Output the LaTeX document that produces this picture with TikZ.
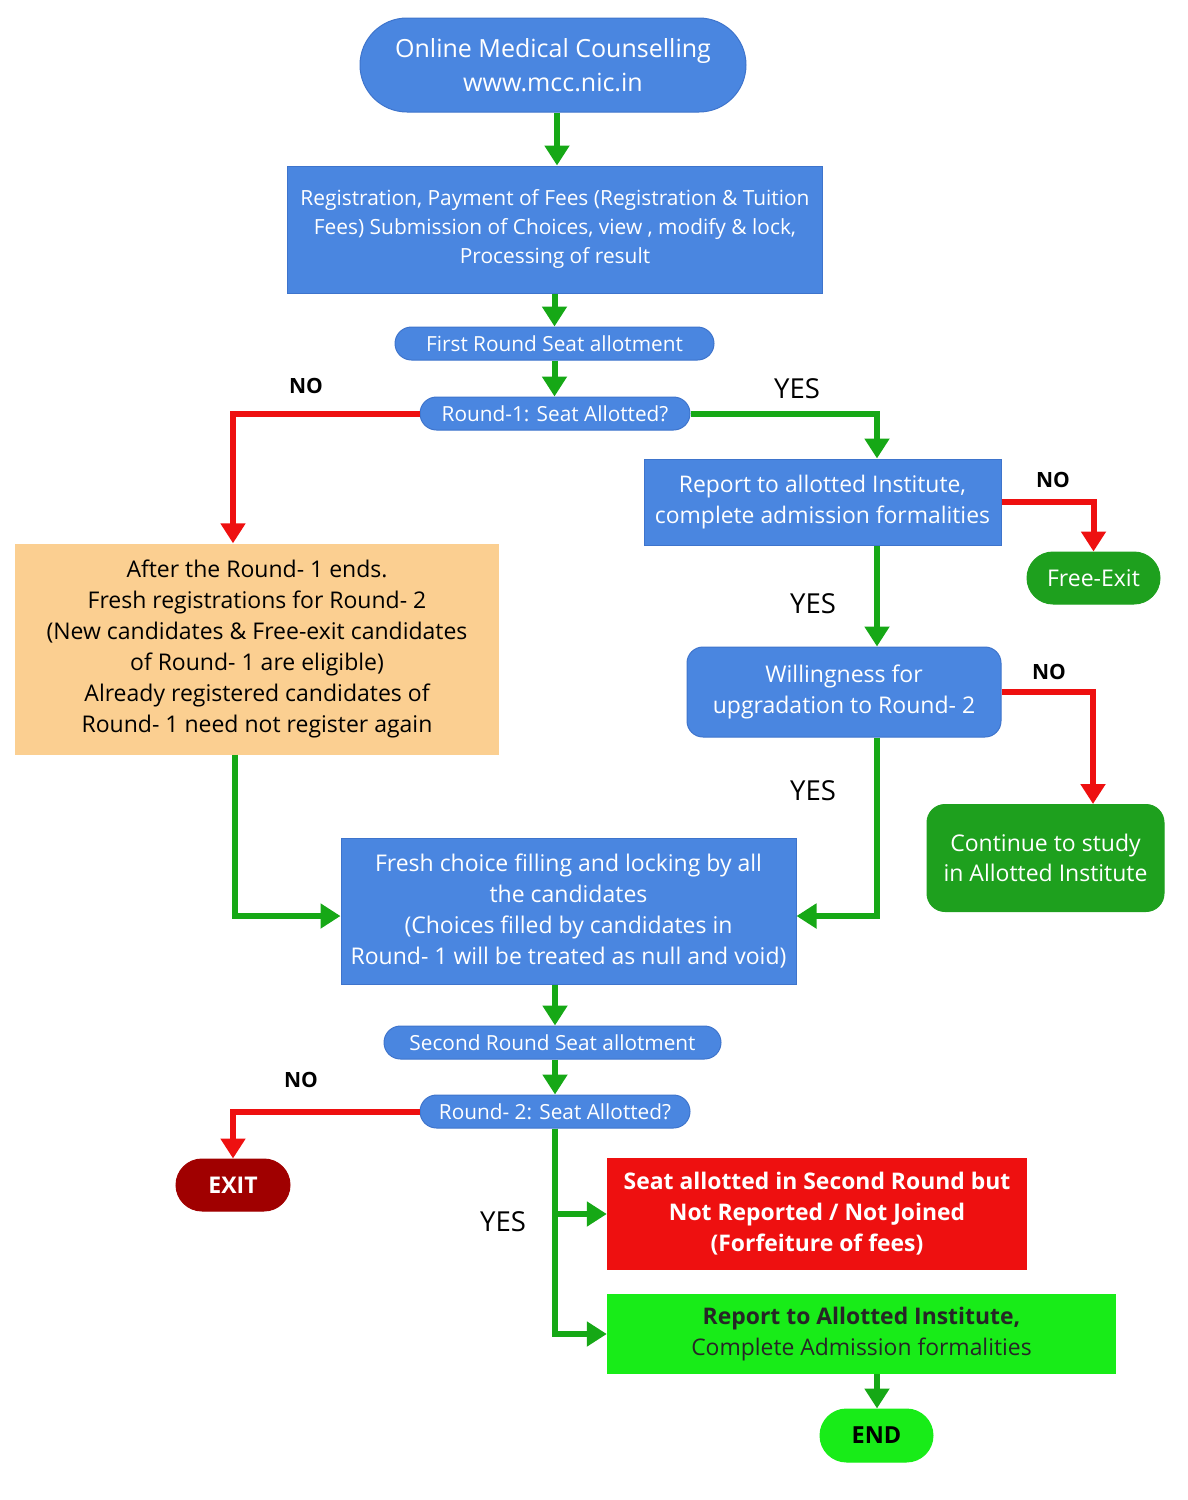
\documentclass[tikz,border=0pt]{standalone}
\usepackage{fontspec}
\setmainfont{Open Sans}
\usetikzlibrary{arrows.meta,positioning}
\definecolor{boxblue}{RGB}{74,134,224}
\definecolor{lineblue}{RGB}{62,116,204}
\definecolor{flowgreen}{RGB}{22,168,22}
\definecolor{flowred}{RGB}{238,16,16}
\definecolor{softorange}{RGB}{251,207,145}
\definecolor{exitgreen}{RGB}{30,160,30}
\definecolor{brightgreen}{RGB}{24,236,24}
\definecolor{darkred}{RGB}{160,0,0}

\begin{document}
\begin{tikzpicture}[x=1pt,y=-1pt,
  blk/.style={fill=boxblue,draw=lineblue,line width=1pt,text=white,align=center,inner sep=0pt},
  pill/.style={blk,rounded corners=#1},
  yesline/.style={draw=flowgreen,line width=6pt,-{Triangle[width=24pt,length=20pt]}},
  noline/.style={draw=flowred,line width=6pt,-{Triangle[width=24pt,length=20pt]}},
  nolabel/.style={font=\fontsize{21}{25}\selectfont\bfseries},
  yeslabel/.style={font=\fontsize{27.5}{32}\selectfont}]

\useasboundingbox (0,0) rectangle (1188,1500);

% blue column
\node[pill=47pt,minimum width=386pt,minimum height=94pt,font=\fontsize{25}{34}\selectfont]
  (online) at (553,65) {Online Medical Counselling\\www.mcc.nic.in};
\node[blk,minimum width=535pt,minimum height=127pt,font=\fontsize{20.9}{29}\selectfont]
  (reg) at (555,229.5) {Registration, Payment of Fees (Registration \& Tuition\\Fees) Submission of Choices, view , modify \& lock,\\Processing of result};
\node[pill=16.5pt,minimum width=319pt,minimum height=33pt,font=\fontsize{20.8}{24}\selectfont]
  (first) at (554.5,343.5) {First Round Seat allotment};
\node[pill=16.5pt,minimum width=270pt,minimum height=33pt,font=\fontsize{20.8}{24}\selectfont]
  (r1) at (555,413.5) {Round-1: Seat Allotted?};

% round 1 branches
\node[fill=softorange,minimum width=484pt,minimum height=211pt,align=center,inner sep=0pt,
  font=\fontsize{23}{31}\selectfont] (fresh2) at (257,649)
  {After the Round- 1 ends.\\Fresh registrations for Round- 2\\(New candidates \& Free-exit candidates\\of Round- 1 are eligible)\\Already registered candidates of\\Round- 1 need not register again};
\node[blk,minimum width=357pt,minimum height=86pt,font=\fontsize{22.9}{31}\selectfont]
  (report) at (822.5,502) {Report to allotted Institute,\\complete admission formalities};
\node[pill=26pt,fill=exitgreen,draw=exitgreen,minimum width=133pt,minimum height=52pt,
  font=\fontsize{23}{25}\selectfont] (freeexit) at (1093.5,578) {Free-Exit};
\node[pill=16pt,minimum width=314pt,minimum height=90pt,font=\fontsize{23}{31}\selectfont]
  (will) at (844,692) {Willingness for\\upgradation to Round- 2};
\node[pill=18pt,fill=exitgreen,draw=exitgreen,minimum width=237pt,minimum height=107pt,
  font=\fontsize{23}{30}\selectfont] (cont) at (1045.5,858) {Continue to study\\in Allotted Institute};

% round 2
\node[blk,minimum width=455pt,minimum height=146pt,font=\fontsize{23}{31}\selectfont]
  (fresh) at (568.5,911) {Fresh choice filling and locking by all\\the candidates\\(Choices filled by candidates in\\Round- 1 will be treated as null and void)};
\node[pill=16.5pt,minimum width=337pt,minimum height=33pt,font=\fontsize{20.8}{24}\selectfont]
  (second) at (552.5,1042.5) {Second Round Seat allotment};
\node[pill=16.5pt,minimum width=270pt,minimum height=33pt,font=\fontsize{20.8}{24}\selectfont]
  (r2) at (555,1111.5) {Round- 2: Seat Allotted?};
\node[pill=26pt,fill=darkred,draw=darkred,minimum width=114pt,minimum height=52pt,
  font=\fontsize{23}{25}\selectfont\bfseries] (exit) at (233,1185) {EXIT};
\node[fill=flowred,text=white,align=center,inner sep=0pt,minimum width=420pt,minimum height=112pt,
  font=\fontsize{22.9}{31}\selectfont\bfseries] (seatred) at (817,1214)
  {Seat allotted in Second Round but\\Not Reported / Not Joined\\(Forfeiture of fees)};
\node[fill=brightgreen,text=black!85,align=center,inner sep=0pt,minimum width=509pt,minimum height=80pt,
  font=\fontsize{22.9}{31}\selectfont] (admit) at (861.5,1334)
  {\textbf{Report to Allotted Institute,}\\Complete Admission formalities};
\node[pill=26.5pt,fill=brightgreen,draw=brightgreen,text=black,minimum width=113pt,minimum height=53pt,
  font=\fontsize{23.5}{25}\selectfont\bfseries] (endn) at (876.5,1435.5) {END};

\coordinate (yescol) at (877,0);

% connectors
\draw[yesline] (online.south -| 557,0) -- (reg.north -| 557,0);
\draw[yesline] (reg.south -| first) -- (first.north -| first);
\draw[yesline] (first.south) -- (r1.north -| first);
\draw[noline] (r1.west) -| ([xshift=-24pt]fresh2.north);
\draw[yesline] (r1.east) -| (report.north -| yescol);
\draw[noline] (report.east) -| (freeexit.north);
\draw[yesline] (report.south -| yescol) -- (will.north -| yescol);
\draw[noline] (will.east) -| ([xshift=47.5pt]cont.north);
\draw[yesline] (will.south -| yescol) |- ([yshift=-5pt]fresh.east);
\draw[yesline] ([xshift=-22pt]fresh2.south) |- ([yshift=-5pt]fresh.west);
\draw[yesline] (fresh.south -| r1) -- (second.north -| r1);
\draw[yesline] (second.south -| r1) -- (r2.north);
\draw[noline] (r2.west) -| (exit.north);
\draw[yesline] (r2.south) |- (seatred.west);
\draw[yesline] (r2.south) |- (admit.west);
\draw[yesline] (admit.south -| yescol) -- (endn.north -| yescol);

% labels
\node[nolabel] (no1) at (306,386) {NO};
\node[yeslabel] (yes1) at (797,389) {YES};
\node[nolabel] (no2) at (1053,480) {NO};
\node[yeslabel] (yes2) at (813,604) {YES};
\node[nolabel] (no3) at (1049,672) {NO};
\node[yeslabel] (yes3) at (813,791) {YES};
\node[nolabel] (no4) at (301,1080) {NO};
\node[yeslabel] (yes4) at (503,1222) {YES};
\end{tikzpicture}
\end{document}
